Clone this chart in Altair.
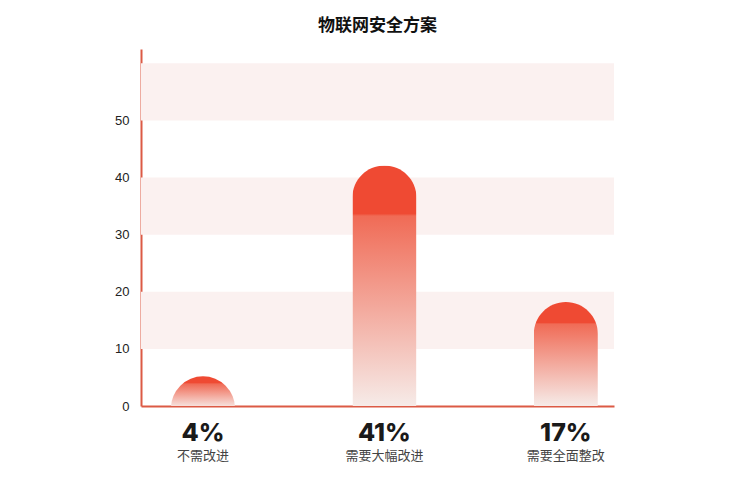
import altair as alt
import pandas as pd

# ---- data ----
categories = ["不需改进", "需要大幅改进", "需要全面整改"]
percent_labels = ["4%", "41%", "17%"]
bar_values = [5.2, 42.1, 18.2]          # bar heights as drawn (incl. rounded cap)
band_low = [10, 30, 50]
band_high = [20, 40, 60]
y_ticks = [0, 10, 20, 30, 40, 50]

df = pd.DataFrame({"category": categories, "pct": percent_labels, "value": bar_values})
bands = pd.DataFrame({"lo": band_low, "hi": band_high})

W, H = 473, 357
RED = "#ef4a33"
AXIS_RED = "#dc5a45"
CAP_LIMIT = 11.2   # bars shorter than the cap diameter are drawn as a dome

yscale = alt.Scale(domain=[0, 62.5], nice=False, zero=True)
y_axis = alt.Axis(values=y_ticks, title=None, grid=False, ticks=False,
                  domainColor=AXIS_RED, domainWidth=2,
                  labelFont="Liberation Sans", labelFontSize=13,
                  labelColor="#222222", labelPadding=12)


def xscale(dom):
    return alt.Scale(type="band", domain=dom, paddingInner=0.647,
                     paddingOuter=0.127, align=0.65)


grad = alt.Gradient(
    gradient="linear", x1=0, x2=0, y1=0, y2=1,
    stops=[
        alt.GradientStop(color=RED, offset=0),
        alt.GradientStop(color=RED, offset=0.2),
        alt.GradientStop(color="#f06b56", offset=0.21),
        alt.GradientStop(color="#f6ebe8", offset=1),
    ],
)

dome_grad = alt.Gradient(
    gradient="linear", x1=0, x2=0, y1=0, y2=1,
    stops=[
        alt.GradientStop(color=RED, offset=0),
        alt.GradientStop(color=RED, offset=0.1),
        alt.GradientStop(color="#f06b56", offset=0.12),
        alt.GradientStop(color="#f6e2de", offset=0.47),
    ],
)

band_layer = alt.Chart(bands).mark_rect(color="#fbf1f0").encode(
    y=alt.Y("lo:Q", scale=yscale, axis=y_axis),
    y2="hi:Q",
)

bar_layer = alt.Chart(df).transform_filter(
    f"datum.value >= {CAP_LIMIT}"
).mark_bar(
    color=grad, cornerRadiusTopLeft=32, cornerRadiusTopRight=32
).encode(
    x=alt.X("pct:N", sort=percent_labels, scale=xscale(percent_labels),
            axis=alt.Axis(orient="bottom", title=None, ticks=False, labelAngle=0,
                          domainColor=AXIS_RED, domainWidth=2,
                          labelFont="Inter", labelFontWeight=800, labelFontSize=25,
                          labelColor="#1a1a1a", labelPadding=14)),
    y=alt.Y("value:Q", scale=yscale, axis=y_axis),
)

dome_layer = alt.Chart(df).transform_filter(
    f"datum.value < {CAP_LIMIT}"
).mark_point(
    shape="circle", filled=True, opacity=1, size=4096, yOffset=32, clip=True,
    color=dome_grad, strokeWidth=0
).encode(
    x=alt.X("pct:N", sort=percent_labels, scale=xscale(percent_labels), axis=None),
    y=alt.Y("value:Q", scale=yscale, axis=y_axis),
)

cat_layer = alt.Chart(df).mark_point(opacity=0).encode(
    x=alt.X("category:N", sort=categories, scale=xscale(categories),
            axis=alt.Axis(orient="bottom", title=None, ticks=False, domain=False,
                          labelAngle=0, labelFont="Noto Sans CJK SC",
                          labelFontSize=13, labelColor="#444444", labelPadding=43)),
)

chart = alt.layer(band_layer, bar_layer, dome_layer, cat_layer).resolve_scale(
    x="independent"
).properties(
    width=W, height=H,
    autosize="none",
    padding={"left": 133, "top": 41, "right": 120, "bottom": 62},
    title=alt.TitleParams("物联网安全方案", font="Noto Sans CJK SC", fontSize=17,
                          fontWeight="bold", color="#111111", offset=14,
                          anchor="middle", frame="group"),
).configure_view(stroke=None)

chart.save("out.html", embed_options={"renderer": "svg", "actions": False})
